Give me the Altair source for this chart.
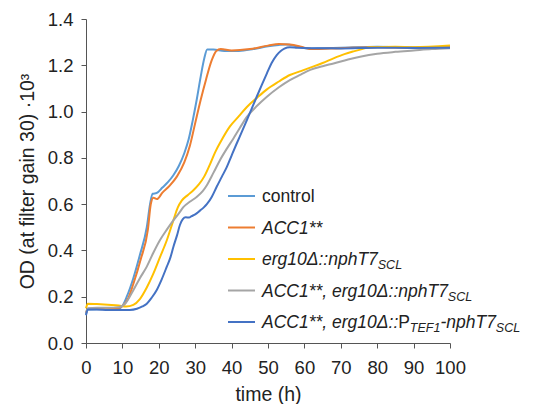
import altair as alt
import pandas as pd

# ---------------- data ----------------
series_names = ["control", "ACC1**", "erg10Δ::nphT7SCL", "ACC1**, erg10Δ::nphT7SCL",
                "ACC1**, erg10Δ::PTEF1-nphT7SCL"]
series_colors = ["#5B9BD5", "#ED7D31", "#FFC000", "#A5A5A5", "#4472C4"]

control_t = [0, 0.6, 3, 6, 9, 10, 11.2, 13, 14.8, 16.7, 17.6, 18.3, 19.4, 21, 22.5, 24, 25.5, 27,
             28.2, 29.3, 30.4, 31.5, 32.5, 33.3, 35, 38, 42, 46, 50, 53, 55, 58, 61, 65, 70, 80, 90, 100]
control_v = [0.125, 0.145, 0.146, 0.146, 0.148, 0.16, 0.2, 0.28, 0.38, 0.5, 0.6, 0.645, 0.648, 0.672,
             0.695, 0.725, 0.765, 0.82, 0.88, 0.96, 1.05, 1.15, 1.23, 1.268, 1.268, 1.262, 1.262, 1.27,
             1.282, 1.288, 1.29, 1.282, 1.272, 1.274, 1.276, 1.28, 1.278, 1.28]

acc_t = [0, 0.6, 3, 6, 9, 10, 11.5, 13, 15, 17, 17.8, 18.5, 19.5, 21, 23, 25, 27, 28.5, 30, 31.5, 33,
         34.5, 35.8, 37, 40, 45, 50, 53, 56, 60, 62, 70, 80, 90, 100]
acc_v = [0.13, 0.148, 0.15, 0.15, 0.152, 0.16, 0.19, 0.255, 0.36, 0.49, 0.6, 0.628, 0.622, 0.65, 0.68,
         0.72, 0.78, 0.85, 0.95, 1.05, 1.14, 1.22, 1.262, 1.27, 1.264, 1.27, 1.285, 1.292, 1.29, 1.276,
         1.27, 1.274, 1.278, 1.276, 1.278]

yellow_t = [0, 0.5, 3, 6, 9, 11, 13, 14.8, 16.7, 18.5, 20.3, 22.2, 24, 25.2, 26.3, 28, 29.5, 31, 32.5,
            34, 35.5, 37, 39.5, 42, 44.2, 47, 49.7, 53, 56, 59, 61.6, 65, 68, 71, 73.5, 76.3, 78, 85,
            90, 100]
yellow_v = [0.15, 0.17, 0.168, 0.165, 0.162, 0.158, 0.165, 0.19, 0.24, 0.30, 0.37, 0.444, 0.53, 0.585,
            0.615, 0.64, 0.66, 0.685, 0.72, 0.77, 0.825, 0.87, 0.935, 0.98, 1.02, 1.06, 1.096, 1.13,
            1.158, 1.175, 1.19, 1.21, 1.23, 1.248, 1.26, 1.272, 1.278, 1.28, 1.278, 1.285]

gray_t = [0, 0.5, 3, 6, 9, 11, 13, 14.8, 16.7, 18.5, 20.3, 22.2, 24, 25.5, 26.8, 28.5, 30.4, 32, 33.2,
          35, 36.8, 38.7, 40.5, 42.3, 44.2, 47, 49.7, 53, 56, 59, 61.6, 65, 68, 72, 75.3, 80, 85, 90,
          95, 100]
gray_v = [0.13, 0.15, 0.152, 0.152, 0.155, 0.175, 0.228, 0.28, 0.33, 0.39, 0.444, 0.49, 0.53, 0.56,
          0.588, 0.61, 0.631, 0.655, 0.682, 0.735, 0.79, 0.84, 0.884, 0.93, 0.977, 1.025, 1.064, 1.105,
          1.136, 1.16, 1.18, 1.196, 1.208, 1.225, 1.237, 1.25, 1.258, 1.264, 1.27, 1.274]

dblue_t = [0, 0.5, 3, 6, 9, 12, 14, 15.5, 16.7, 18, 19.4, 20.8, 22.2, 23.2, 24, 25, 25.8, 26.6, 27.4,
           28.3, 29, 30, 31.3, 32.3, 33.2, 34.5, 35.9, 37.3, 38.7, 40, 41.4, 42.8, 44.2, 45.5, 46.9,
           48.3, 49.7, 51, 52.4, 53.5, 54.5, 56, 58, 62, 70, 80, 90, 100]
dblue_v = [0.12, 0.145, 0.145, 0.143, 0.143, 0.143, 0.148, 0.158, 0.17, 0.195, 0.228, 0.275, 0.33, 0.37,
           0.415, 0.465, 0.51, 0.535, 0.543, 0.542, 0.548, 0.556, 0.572, 0.585, 0.6, 0.63, 0.675, 0.718,
           0.761, 0.81, 0.862, 0.912, 0.963, 1.012, 1.064, 1.115, 1.165, 1.21, 1.244, 1.262, 1.272,
           1.278, 1.276, 1.274, 1.273, 1.276, 1.275, 1.276]

x_ticks = [0, 10, 20, 30, 40, 50, 60, 70, 80, 90, 100]
y_ticks = [0.0, 0.2, 0.4, 0.6, 0.8, 1.0, 1.2, 1.4]

# legend label pieces: (text, italic, subscript)
legend_pieces = [
    [("control", False, False)],
    [("ACC1**", True, False)],
    [("erg10Δ::nphT7", True, False), ("SCL", True, True)],
    [("ACC1**, erg10Δ::nphT7", True, False), ("SCL", True, True)],
    [("ACC1**, erg10Δ::", True, False), ("P", False, False), ("TEF1", True, True),
     ("-nphT7", True, False), ("SCL", True, True)],
]

# ---------------- build tables ----------------
FONT = "Liberation Sans"
all_t = [control_t, acc_t, yellow_t, gray_t, dblue_t]
all_v = [control_v, acc_v, yellow_v, gray_v, dblue_v]
rows = []
for i, (name, ts, vs) in enumerate(zip(series_names, all_t, all_v)):
    for t, v in zip(ts, vs):
        rows.append({"series": name, "order": i, "t": t, "v": v})
df = pd.DataFrame(rows)

W = {'A': 667, 'C': 722, '1': 556, '*': 389, ',': 278, ' ': 278, 'e': 556, 'r': 333, 'g': 556,
     '0': 556, 'Δ': 668, ':': 278, 'n': 556, 'p': 556, 'h': 556, 'T': 611, '7': 556, 'P': 667,
     '-': 333, 'S': 667, 'L': 556, 'E': 667, 'F': 611, 'c': 500, 'o': 556, 't': 278, 'l': 222}


def text_width(s, size):
    return sum(W.get(ch, 556) for ch in s) * size / 1000.0


MAIN_SIZE = 17.5
SUB_SIZE = 12.5
sym_x0, sym_x1, text_x0 = 142, 169, 176
row_y0, row_dy = 177, 31.5

sym_rows, txt_rows = [], []
for i, pieces in enumerate(legend_pieces):
    cy = row_y0 + row_dy * i
    sym_rows.append({"x": sym_x0, "x2": sym_x1, "y": cy, "color": series_colors[i]})
    x = text_x0
    for text, italic, sub in pieces:
        size = SUB_SIZE if sub else MAIN_SIZE
        txt_rows.append({"text": text, "x": x, "y": cy + 6 + (4 if sub else 0), "size": size,
                         "italic": italic})
        x += text_width(text, size)
sym_df = pd.DataFrame(sym_rows)
txt_df = pd.DataFrame(txt_rows)

# ---------------- chart ----------------
axis_common = dict(grid=False, domainColor="#555555", tickColor="#555555", tickSize=5,
                   labelOverlap=False, labelFlush=False, labelFont=FONT, labelFontSize=18.5,
                   labelColor="#222222", titleFont=FONT, titleFontSize=19.5,
                   titleFontWeight="normal", titleColor="#222222")

lines = alt.Chart(df).mark_line(strokeWidth=2, interpolate="monotone").encode(
    x=alt.X("t:Q", scale=alt.Scale(domain=[0, 100], nice=False),
            axis=alt.Axis(values=x_ticks, title="time (h)", labelPadding=10, titlePadding=9,
                          **axis_common)),
    y=alt.Y("v:Q", scale=alt.Scale(domain=[0, 1.4], nice=False),
            axis=alt.Axis(values=y_ticks, format=".1f", title="OD (at filter gain 30) ·10³",
                          labelPadding=8, titlePadding=10, **axis_common)),
    color=alt.Color("series:N", scale=alt.Scale(domain=series_names, range=series_colors),
                    legend=None),
    detail="series:N",
    order="order:Q",
)

sym = alt.Chart(sym_df).mark_rule(strokeWidth=2).encode(
    x=alt.X("x:Q", scale=None), x2="x2:Q",
    y=alt.Y("y:Q", scale=None),
    color=alt.Color("color:N", scale=None),
)

txt_italic = alt.Chart(txt_df[txt_df["italic"]]).mark_text(
    align="left", baseline="alphabetic", font=FONT, fontStyle="italic", color="#222222"
).encode(x=alt.X("x:Q", scale=None), y=alt.Y("y:Q", scale=None),
         size=alt.Size("size:Q", scale=None), text="text:N")

txt_normal = alt.Chart(txt_df[~txt_df["italic"]]).mark_text(
    align="left", baseline="alphabetic", font=FONT, color="#222222"
).encode(x=alt.X("x:Q", scale=None), y=alt.Y("y:Q", scale=None),
         size=alt.Size("size:Q", scale=None), text="text:N")

chart = alt.layer(lines, sym, txt_italic, txt_normal).properties(
    width=364, height=324, padding={"left": 9, "top": 2, "right": 5, "bottom": 0}
).configure_view(stroke=None)

chart.save("out.html", embed_options={"renderer": "svg", "actions": False})
